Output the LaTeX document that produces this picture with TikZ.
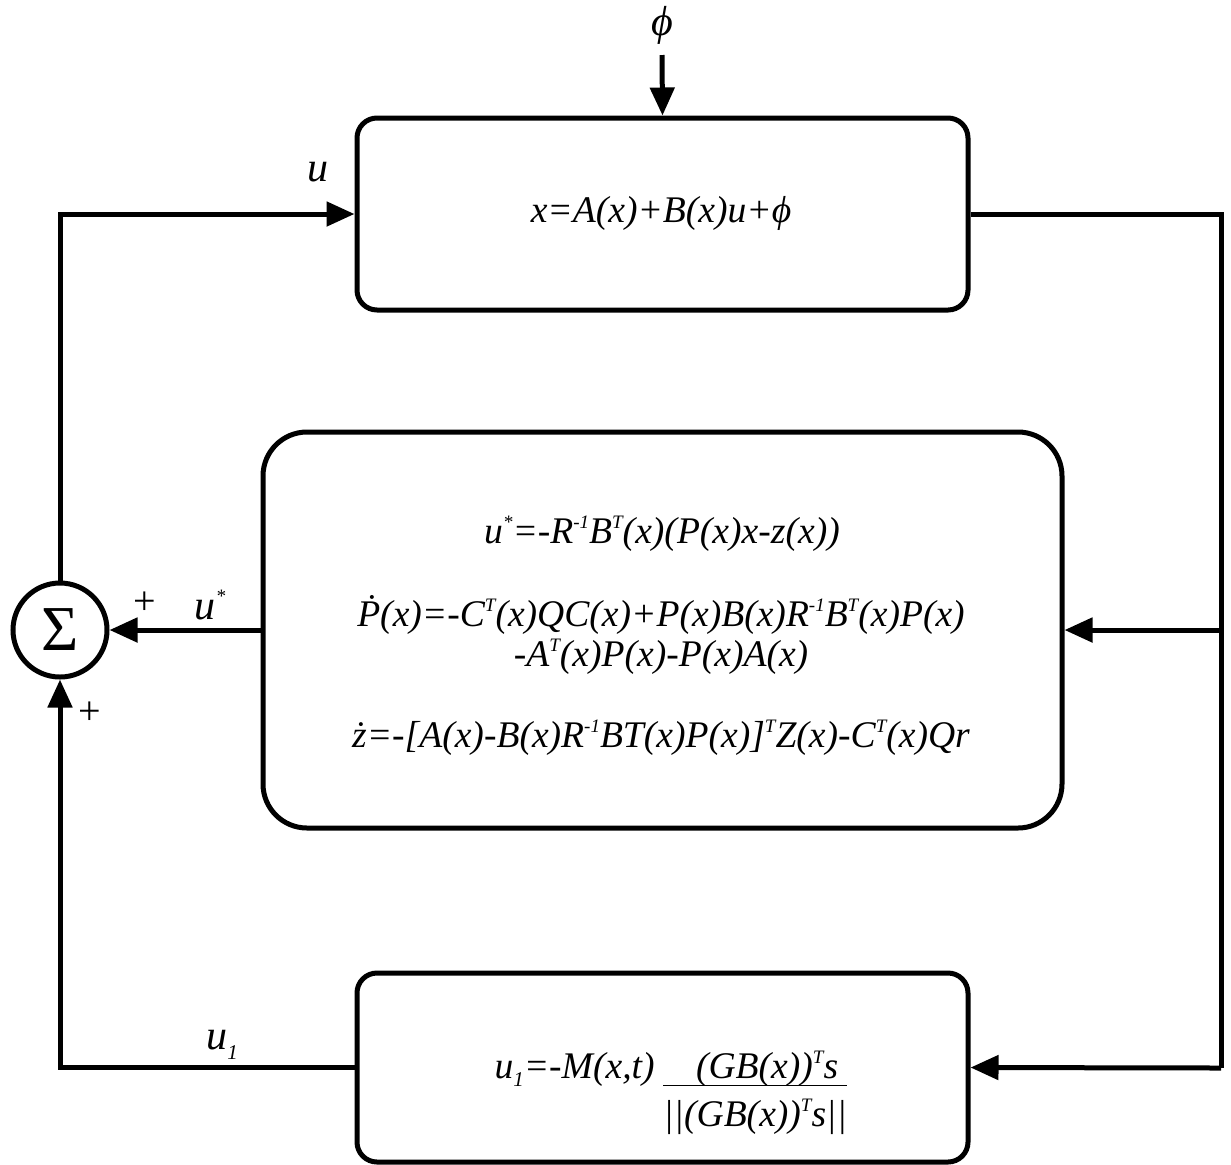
\documentclass[tikz,border=0pt]{standalone}
\usepackage{fontspec}
\setmainfont{Liberation Serif}
\usetikzlibrary{arrows.meta,positioning}
\tikzset{
  block/.style={draw=black, line width=2.5pt, rounded corners=10pt, inner sep=0pt},
  bigblock/.style={block, rounded corners=22pt},
  sumnode/.style={draw=black, circle, line width=2.5pt, minimum size=47pt, inner sep=0pt, font=\fontsize{32}{36}\selectfont},
  flow/.style={line width=2.5pt},
  arrow/.style={-{Triangle[length=14pt,width=12pt]}, line width=2.5pt},
  eq/.style={font=\fontsize{18.8}{22}\selectfont\itshape, inner sep=0pt},
  lbl/.style={font=\fontsize{21}{25}\selectfont\itshape, inner sep=0pt},
  sgn/.style={font=\fontsize{20}{24}\selectfont, inner sep=0pt}
}
\newcommand{\sps}[1]{\raisebox{0.85ex}{\fontsize{9.5}{11}\selectfont #1}}
\newcommand{\sbs}[1]{\raisebox{-0.5ex}{\fontsize{10.5}{12}\selectfont #1}}
\begin{document}
\begin{tikzpicture}[x=0.5pt, y=-0.5pt]
\useasboundingbox (0,0) rectangle (1231,1164);
% blocks
\node[block, minimum width=305.5pt, minimum height=96pt] (plant) at (662.5,214) {};
\node[bigblock, minimum width=399.5pt, minimum height=198pt] (opt) at (662.5,630) {};
\node[block, minimum width=305.5pt, minimum height=94.5pt] (smc) at (662.5,1067.5) {};
\node[sumnode] (sum) at (60,630) {Σ};
% equations
\node[eq] (plantEq) at (661,213) {x=A(x)+B(x)u+ϕ};
\node[eq] (optEqA) at (662,534) {u\sps{*}=-R\sps{-1}B\sps{T}(x)(P(x)x-z(x))};
\node[eq] (optEqB) at (661,615) {\.{P}(x)=-C\sps{T}(x)QC(x)+P(x)B(x)R\sps{-1}B\sps{T}(x)P(x)};
\node[eq] (optEqC) at (661,657) {-A\sps{T}(x)P(x)-P(x)A(x)};
\node[eq] (optEqD) at (661,738) {\.{z}=-[A(x)-B(x)R\sps{-1}BT(x)P(x)]\sps{T}Z(x)-C\sps{T}(x)Qr};
\node[eq, anchor=base east] (smcEq) at (655,1078) {u\sbs{1}=-M(x,t)};
\node[eq, anchor=base west] (smcFrac) at (663,1078) {\begin{tabular}[t]{@{}c@{}}\hspace{12pt}(GB(x))\sps{T}s\\[-3pt]\hline\rule{0pt}{20pt}||(GB(x))\sps{T}s||\end{tabular}};
% signals
\node[lbl] (phi) at (662,25) {ϕ};
\coordinate (phiIn) at (662,55);
\node[lbl] (uLbl) at (318,172) {u};
\node[lbl] (ustar) at (210,605) {u\sps{*}};
\node[lbl] (u1) at (222,1045) {u\sbs{1}};
\node[sgn] (plusA) at (145,603) {+};
\node[sgn] (plusB) at (90,713) {+};
\coordinate (rTop) at (1221,214);
\coordinate (rMid) at (1221,630);
\coordinate (rBot) at (1221,1068);
% connectors
\draw[arrow] (phiIn) -- (plant.north);
\draw[arrow] (sum.north) |- (plant.west);
\draw[flow] (plant.east) -- (rTop) -- (rBot);
\draw[arrow] (rMid) -- (opt.east);
\draw[arrow] (rBot) -- (smc.east);
\draw[arrow] (opt.west) -- (sum.east);
\draw[arrow] (smc.west) -| (sum.south);
\end{tikzpicture}
\end{document}
